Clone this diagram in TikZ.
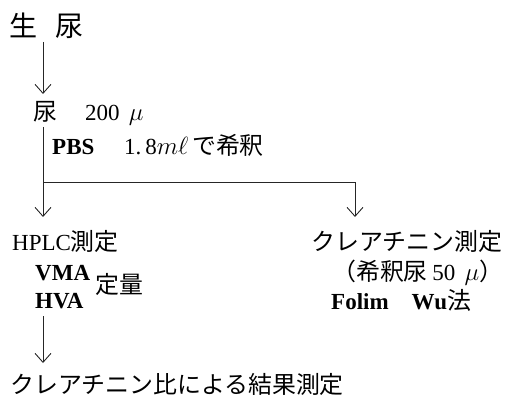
\documentclass[tikz,border=0pt]{standalone}
\usepackage{fontspec}
\setmainfont{Liberation Serif}
\newfontfamily\jp[Scale=1.04]{Noto Sans CJK JP}
\usetikzlibrary{arrows.meta}
\begin{document}
\begin{tikzpicture}[x=1pt,y=-1pt,
  txt/.style={anchor=base west,inner sep=0pt,font=\fontsize{23}{26}\selectfont},
  big/.style={anchor=base west,inner sep=0pt,font=\fontsize{27}{30}\selectfont},
  conn/.style={draw=black!85,line width=0.9pt},
  arr/.style={conn,-{Straight Barb[length=9pt,width=16pt,line width=0.9pt]}}]
\useasboundingbox (0,0) rectangle (505,403);
% texts
\node[big] (raw) at (9,37) {\jp 生\hspace{0.65em}尿};
\node[txt] (urine) at (33,121) {\jp 尿};
\node[txt] (vol) at (85,121) {200\hspace{0.4em}$\mu$};
\node[txt] (pbs) at (52,155) {\bfseries PBS};
\node[txt] (dil) at (124,155) {1.\,8$m\ell$\,\jp で希釈};
\node[txt] (hplc) at (12,250) {HPLC\jp 測定};
\node[txt] (vma) at (35,280) {\bfseries VMA};
\node[txt] (hva) at (35,308) {\bfseries HVA};
\node[txt] (quant) at (95,293) {\jp 定量};
\node[txt] (crea) at (311,250) {\jp クレアチニン測定};
\node[txt] (diluted) at (332,280) {\jp （希釈尿\rmfamily\hspace{0.2em}50\hspace{0.4em}$\mu$\jp ）};
\node[txt] (folin) at (331,309) {\bfseries Folim\hspace{1.0em}Wu\jp\mdseries 法};
\node[txt] (result) at (10,393) {\jp クレアチニン比による結果測定};
% connectors
\coordinate (a1) at (43,42);
\coordinate (a2) at (43,94);
\coordinate (b1) at (43,127);
\coordinate (b2) at (43,182);
\coordinate (b3) at (355,182);
\coordinate (b4) at (43,217);
\coordinate (b5) at (355,217);
\coordinate (c1) at (43,316);
\coordinate (c2) at (43,363);
\draw[arr] (a1) -- (a2);
\draw[conn] (b1) -- (b2);
\draw[arr] (b2) -- (b4);
\draw[arr] (b2) -- (b3) -- (b5);
\draw[arr] (c1) -- (c2);
\end{tikzpicture}
\end{document}
